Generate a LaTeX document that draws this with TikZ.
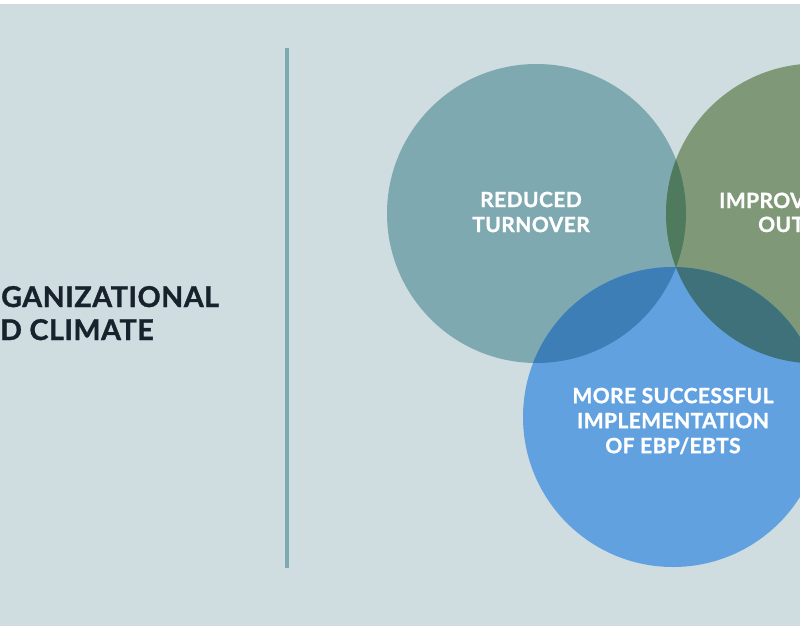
\documentclass[tikz,border=0pt]{standalone}
\usepackage{fontspec}
\setmainfont{Lato}[BoldFeatures={FakeBold=1.2,LetterSpace=2}]
\definecolor{bgc}{HTML}{CFDCE0}
\definecolor{ca}{HTML}{7FA9B0}
\definecolor{cb}{HTML}{7F9877}
\definecolor{cc}{HTML}{62A1DF}
\definecolor{cac}{HTML}{3C7EB5}
\definecolor{cbc}{HTML}{3E717A}
\definecolor{cab}{HTML}{4F7A5E}
\definecolor{darktext}{HTML}{17222D}
\begin{document}
\begin{tikzpicture}[x=1pt,y=-1pt,
  lefttext/.style={anchor=base west,inner sep=0pt,text=darktext,font=\fontsize{28.6}{33}\selectfont\bfseries},
  circtext/.style={align=center,inner sep=0pt,text=white,font=\fontsize{21}{25}\selectfont\bfseries}]
\useasboundingbox (0,0) rectangle (800,626);
\clip (0,0) rectangle (800,626);
\fill[white] (0,0) rectangle (800,626);
\fill[bgc] (0,4) rectangle (800,626);
% divider
\node[fill=ca,minimum width=4pt,minimum height=520pt,inner sep=0pt] (divider) at (287,308) {};
% circles
\fill[ca] (536.5,213.5) circle (149.5);
\fill[cb] (816,213.5) circle (150);
\fill[cc] (673,417) circle (150);
\begin{scope}
  \clip (536.5,213.5) circle (149.5);
  \fill[cab] (816,213.5) circle (150);
  \fill[cac] (673,417) circle (150);
\end{scope}
\begin{scope}
  \clip (816,213.5) circle (150);
  \fill[cbc] (673,417) circle (150);
\end{scope}
% texts
\node[lefttext] (t1) at (1,307) {GANIZATIONAL};
\node[lefttext] (t2) at (0,340) {D CLIMATE};
\node[circtext] (reduced) at (531,212) {REDUCED\\TURNOVER};
\node[circtext,anchor=base west] (impr) at (719,208) {IMPROV};
\node[circtext,anchor=base west] (out) at (758,232) {OUT};
\node[circtext] (more) at (673,421) {MORE SUCCESSFUL\\IMPLEMENTATION\\OF EBP/EBTS};
\end{tikzpicture}
\end{document}
